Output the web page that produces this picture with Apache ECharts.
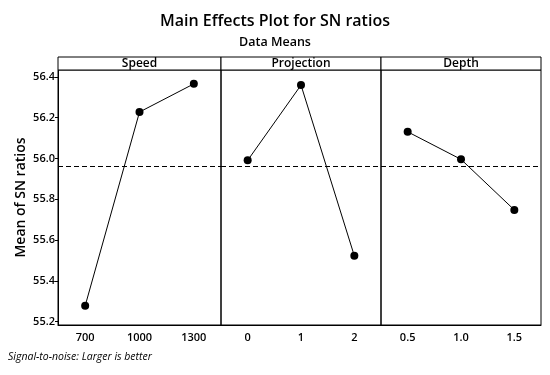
<!DOCTYPE html>
<html>
<head>
<meta charset="utf-8">
<script src="https://cdn.jsdelivr.net/npm/echarts@6/dist/echarts.min.js"></script>
<style>html,body{margin:0;padding:0;background:#fff}#c{width:550px;height:375px}</style>
</head>
<body>
<div id="c"></div>
<script>
// ---- Data ----
const panelNames = ['Speed', 'Projection', 'Depth'];
const speedLevels = ['700', '1000', '1300'];
const speedMeans = [55.278, 56.228, 56.366];
const projectionLevels = ['0', '1', '2'];
const projectionMeans = [55.991, 56.360, 55.523];
const depthLevels = ['0.5', '1.0', '1.5'];
const depthMeans = [56.131, 55.996, 55.748];
const yTicks = [55.2, 55.4, 55.6, 55.8, 56.0, 56.2, 56.4];
const overallMean = 55.957;

(function () {
const FONT = '"Open Sans", "Noto Sans", sans-serif';
const yMin = 55.184, yMax = 56.434;
const gTop = 70, gHeight = 255;
const lefts = [58, 221, 381], widths = [163, 160, 160];
const levels = [speedLevels, projectionLevels, depthLevels];
const means = [speedMeans, projectionMeans, depthMeans];

const grids = [], xAxes = [], yAxes = [], series = [];
for (let i = 0; i < 3; i++) {
  grids.push({left: lefts[i], top: gTop, width: widths[i], height: gHeight,
    show: true, borderColor: '#000', borderWidth: 1, backgroundColor: 'transparent'});
  xAxes.push({type: 'category', gridIndex: i, data: levels[i], boundaryGap: true,
    axisLine: {show: true, lineStyle: {color: '#000', width: 1}},
    axisTick: {show: false},
    axisLabel: {color: '#000', fontFamily: FONT, fontSize: 11, fontWeight: 600, margin: 7}});
  yAxes.push({type: 'value', gridIndex: i, min: yMin, max: yMax,
    splitLine: {show: false},
    axisLine: {show: i === 0, lineStyle: {color: '#000'}},
    axisTick: {show: i === 0, length: 3, customValues: yTicks, lineStyle: {color: '#000'}},
    axisLabel: {show: i === 0, customValues: yTicks, color: '#000', fontFamily: FONT,
      fontSize: 11, fontWeight: 600, margin: 3, formatter: v => v.toFixed(1)},
    name: i === 0 ? 'Mean of SN ratios' : '', nameLocation: 'middle', nameGap: 30,
    nameRotate: 90,
    nameTextStyle: {color: '#000', fontFamily: FONT, fontSize: 14, fontWeight: 600}});
  series.push({type: 'line', xAxisIndex: i, yAxisIndex: i, data: means[i],
    symbol: 'circle', symbolSize: 8, itemStyle: {color: '#000'},
    lineStyle: {color: '#000', width: 1}, animation: false,
    markLine: {silent: true, symbol: 'none', label: {show: false},
      lineStyle: {color: '#000', type: [5, 3], width: 1},
      data: [{yAxis: overallMean}]}});
}

const graphics = [];
for (let i = 0; i < 3; i++) {
  graphics.push({type: 'rect', shape: {x: lefts[i], y: 57, width: widths[i], height: 13},
    style: {fill: '#fff', stroke: '#000', lineWidth: 1}, z: 10});
  graphics.push({type: 'text', x: lefts[i] + widths[i] / 2, y: 63.5,
    style: {text: panelNames[i], fill: '#000', font: '600 12px ' + FONT,
      textAlign: 'center', textVerticalAlign: 'middle'}, z: 11});
}
graphics.push({type: 'text', left: 8, top: 352,
  style: {text: 'Signal-to-noise: Larger is better', fill: '#000',
    font: 'italic 10.5px ' + FONT}});

const chart = echarts.init(document.getElementById('c'), null, {renderer: 'canvas'});
chart.setOption({
  animation: false,
  backgroundColor: '#fff',
  title: [{text: 'Main Effects Plot for SN ratios', left: 'center', top: 8,
      textStyle: {fontFamily: FONT, fontSize: 16, fontWeight: 600, color: '#000'}},
    {text: 'Data Means', left: 'center', top: 31,
      textStyle: {fontFamily: FONT, fontSize: 12.5, fontWeight: 600, color: '#000'}}],
  grid: grids, xAxis: xAxes, yAxis: yAxes, series: series, graphic: graphics
});
})();
</script>
</body>
</html>
